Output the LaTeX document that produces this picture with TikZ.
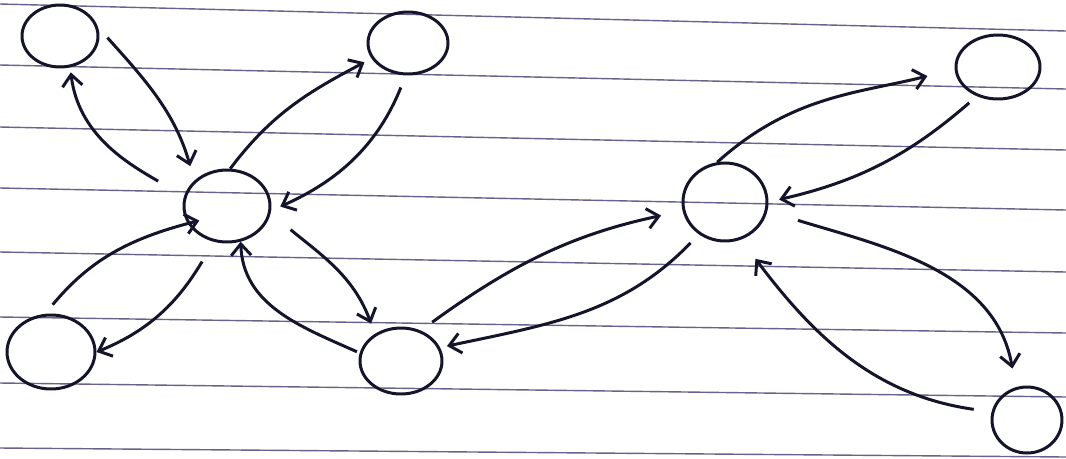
\documentclass[tikz,border=0pt]{standalone}
\usepackage{tikz}
\usepackage{xcolor}
\definecolor{ink}{RGB}{20,20,42}
\definecolor{ruling}{RGB}{105,98,140}
\usetikzlibrary{shapes.geometric}
\usetikzlibrary{arrows.meta}
\tikzset{blob/.style={draw=ink, ellipse, inner sep=0pt, line width=1.7pt},
	link/.style={draw=ink, line width=1.7pt, -{Straight Barb[length=2.3mm,width=4mm]}}}

\begin{document}
\begin{tikzpicture}[x=0.02cm, y=-0.02cm]
\useasboundingbox (0,0) rectangle (1066,458);
\fill[white] (0,0) rectangle (1066,458);

% ruled paper
\foreach \ya/\yb in {4/31, 65/89, 127/150, 188/210, 252/272, 317/333, 383/397, 448/457}
	\draw[ruling, line width=0.8pt] (0,\ya) -- (1066,\yb);

% left group
\node[blob, minimum width=1.52cm, minimum height=1.24cm] (tl) at (60,36) {};
\node[blob, minimum width=1.6cm, minimum height=1.24cm] (tm) at (408,43) {};
\node[blob, minimum width=1.72cm, minimum height=1.44cm] (hubl) at (227,206) {};
\node[blob, minimum width=1.76cm, minimum height=1.48cm] (bl) at (51,352) {};
\node[blob, minimum width=1.64cm, minimum height=1.32cm] (bm) at (401,361) {};

% right group
\node[blob, minimum width=1.68cm, minimum height=1.56cm] (hubr) at (725,202) {};
\node[blob, minimum width=1.68cm, minimum height=1.28cm] (tr) at (998,67) {};
\node[blob, minimum width=1.4cm, minimum height=1.32cm] (br) at (1027,420) {};

% arrows round the left hub
\draw[link, shorten <=0.28cm, shorten >=0.3cm] (tl.13) to[out=-48, in=106] (hubl.142);
\draw[link, shorten <=0.6cm, shorten >=0.1cm] (hubl.167) to[out=150, in=-83] (tl.-72);
\draw[link, shorten >=0.16cm] (hubl.85) to[out=53, in=208] (tm.203);
\draw[link, shorten <=0.26cm, shorten >=0.2cm] (tm.-94) to[out=-112, in=24] (hubl.-6);
\draw[link, shorten <=0.24cm, shorten >=-0.24cm] (bl.99) to[out=50, in=194] (hubl.204);
\draw[link, shorten <=0.46cm] (hubl.-110) to[out=-121, in=22] (bl.0);
\draw[link, shorten <=0.52cm, shorten >=0.22cm] (hubl.-9) to[out=-40, in=110] (bm.134);
\draw[link, shorten <=0.06cm] (bm.169) to[out=156, in=-88] (hubl.-69);

% between the hubs
\draw[link, shorten <=0.28cm, shorten >=0.44cm] (bm.57) to[out=36, in=192] (hubr.192);
\draw[link, shorten <=0.24cm, shorten >=0.14cm] (hubr.-129) to[out=-134, in=12] (bm.19);

% arrows round the right hub
\draw[link, shorten >=0.56cm] (hubr.101) to[out=42, in=194] (tr.183);
\draw[link, shorten <=0.2cm, shorten >=0.22cm] (tr.-126) to[out=-139, in=13] (hubr.0);
\draw[link, shorten <=0.64cm, shorten >=0.38cm] (hubr.-12) to[out=-17, in=100] (br.109);
\draw[link, shorten <=0.36cm, shorten >=0.48cm] (br.167) to[out=172, in=-53] (hubr.-67);
\end{tikzpicture}
\end{document}
